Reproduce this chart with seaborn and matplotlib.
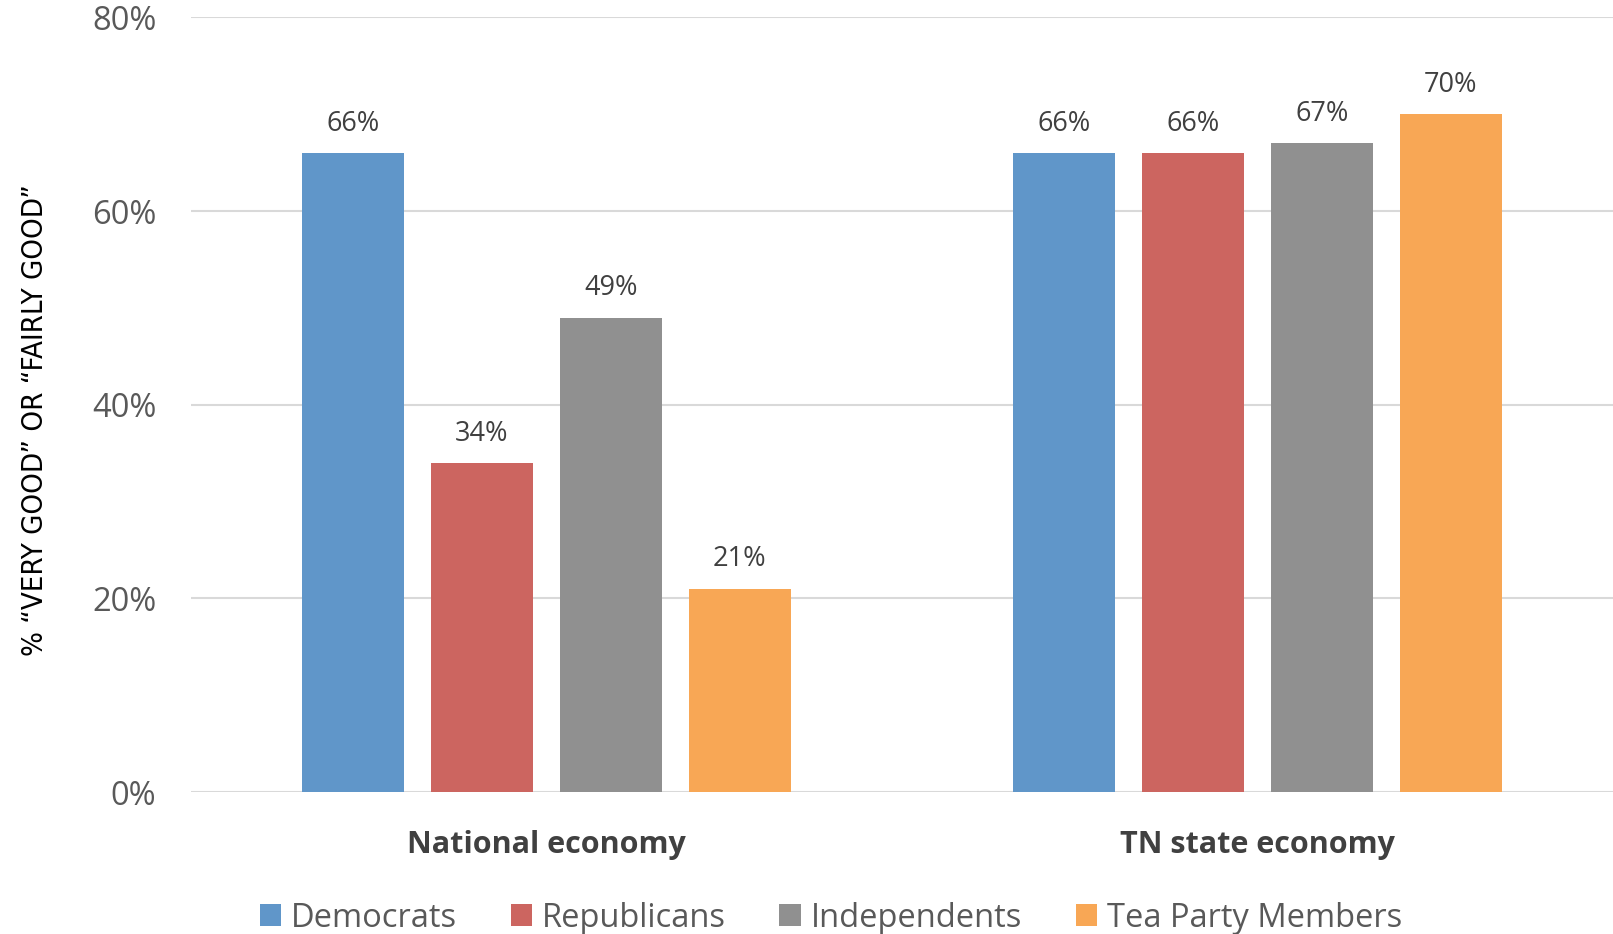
import pandas as pd
import matplotlib.pyplot as plt
import seaborn as sns
from matplotlib.patches import Patch

# Chart data
categories = ['National economy', 'TN state economy']
groups = ['Democrats', 'Republicans', 'Independents', 'Tea Party Members']
national = [66, 34, 49, 21]
tn_state = [66, 66, 67, 70]
colors = ['#6096C9', '#CC6560', '#909090', '#F8A755']
y_ticks = [0, 20, 40, 60, 80]

# Long-form table for seaborn
df = pd.DataFrame({
    'Economy': [categories[0]] * 4 + [categories[1]] * 4,
    'Group': groups * 2,
    'Value': national + tn_state,
})

sns.set_theme(style='white')
plt.rcParams['font.family'] = ['Open Sans', 'DejaVu Sans']

fig = plt.figure(figsize=(16.13, 9.34), dpi=100)
ax = fig.add_axes([0.1184, 0.152, 0.8816, 0.8293])

sns.barplot(data=df, x='Economy', y='Value', hue='Group', hue_order=groups,
            palette=colors, width=0.725, gap=0.21, ax=ax, legend=False,
            saturation=1, edgecolor='none')

# Value labels above bars
for container in ax.containers:
    ax.bar_label(container, labels=[f'{v:.0f}%' for v in container.datavalues],
                 padding=11, fontsize=19.5, color='#404040')

ax.set_xlim(-0.5, 1.5)
ax.set_ylim(0, 80)
ax.set_yticks(y_ticks)
ax.set_yticklabels([f'{t}%' for t in y_ticks], fontsize=23.5, color='#595959')
ax.yaxis.grid(True, color='#D9D9D9', linewidth=1.5)
ax.set_axisbelow(True)
ax.tick_params(axis='y', length=0, pad=25)
ax.tick_params(axis='x', length=0, pad=27)
ax.set_xticks([0, 1])
ax.set_xticklabels(categories, fontsize=22, fontweight='bold', color='#404040')
ax.set_xlabel('')
ax.set_ylabel('% \u201cVERY GOOD\u201d OR \u201cFAIRLY GOOD\u201d',
              family='DejaVu Sans', fontstretch='condensed',
              fontsize=21, color='black', labelpad=0)
ax.yaxis.set_label_coords(-0.1, 0.48)
for s in ax.spines.values():
    s.set_visible(False)

# Legend below the plot
handles = [Patch(facecolor=c, edgecolor='none') for c in colors]
fig.legend(handles, groups, loc='center', bbox_to_anchor=(0.515, 0.017),
           ncol=4, frameon=False, fontsize=23.5, labelcolor='#595959',
           handlelength=0.65, handleheight=0.65, handletextpad=0.3,
           columnspacing=1.65)

plt.savefig('out.png', dpi=100)
